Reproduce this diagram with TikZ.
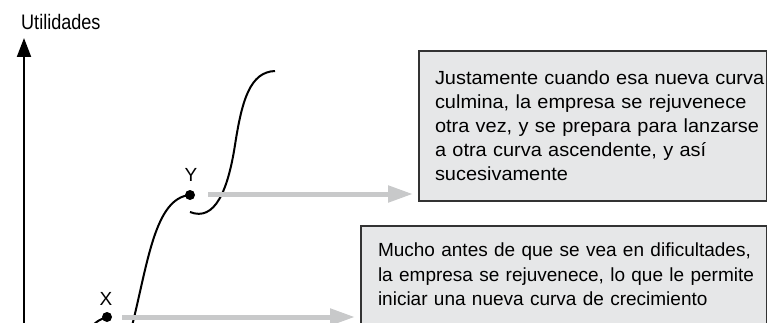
\documentclass[tikz,border=0pt]{standalone}
\usepackage{fontspec}
\setmainfont{Liberation Sans}
\usetikzlibrary{arrows.meta}
\definecolor{boxfill}{HTML}{E6E7E8}
\definecolor{boxline}{HTML}{333333}
\definecolor{arrowgray}{HTML}{C8C9CA}
\newcommand{\boxfont}{\fontsize{19}{24.5}\selectfont}
\newcommand{\wideboxfont}{\fontsize{19}{24}\selectfont\addfontfeature{FakeStretch=1.05}}
\newcommand{\titlefont}{\fontsize{21}{24}\selectfont\addfontfeature{FakeStretch=0.86}}
\tikzset{
  curve/.style={line width=2pt, black},
  dotnode/.style={circle, fill=black, inner sep=0pt, minimum size=10pt},
  lbl/.style={inner sep=0pt, font=\boxfont},
  greyarrow/.style={line width=5pt, arrowgray, -{Triangle[length=25pt,width=16pt]}, shorten >=5pt},
  infobox/.style={draw=boxline, line width=2pt, fill=boxfill, anchor=north west, align=left,
    font=\boxfont},
}
\begin{document}
\begin{tikzpicture}[x=1pt,y=-1pt]
\useasboundingbox (0,0) rectangle (767,323);
% axis
\coordinate (axb) at (24,330);
\coordinate (axt) at (24,38);
\draw[line width=2pt, -{Triangle[length=19pt,width=14pt]}] (axb) -- (axt);
\node[inner sep=0pt, anchor=base west, font=\titlefont] (ut) at (21,30) {Utilidades};
% boxes
\node[infobox, font=\wideboxfont, text width=315.5pt, inner xsep=16pt, inner ysep=20pt] (b1) at (418,50)
 {\mbox{\wideboxfont Justamente cuando esa nueva curva}\\ \mbox{\wideboxfont culmina, la empresa se rejuvenece}\\ \mbox{\wideboxfont otra vez, y se prepara para lanzarse}\\ \mbox{\wideboxfont a otra curva ascendente, y así}\\ \mbox{\wideboxfont sucesivamente}};
\node[infobox, text width=371.5pt, inner xsep=17pt, inner ysep=17pt] (b2) at (360,225)
 {\mbox{\boxfont Mucho antes de que se vea en dificultades,}\\ \mbox{\boxfont la empresa se rejuvenece, lo que le permite}\\ \mbox{\boxfont iniciar una nueva curva de crecimiento\rule[-40pt]{0pt}{1pt}}};
% dots and labels
\node[dotnode] (X) at (107,317) {};
\node[dotnode] (Y) at (190,195) {};
\node[lbl, anchor=base] (xl) at (106,305) {X};
\node[lbl, anchor=base] (yl) at (191,181) {Y};
% curves
\coordinate (c1s) at (93,325);
\coordinate (c2s) at (132,326);
\coordinate (c3s) at (190,212);
\coordinate (c3e) at (275,71);
\draw[curve] (c1s) .. controls (99,320) .. (X.center);
\draw[curve] (c2s) .. controls (148,262) and (155,198) .. (Y.center);
\draw[curve] (c3s) .. controls (215,222) and (228,190) .. (235,145) .. controls (242,100) and (250,72) .. (c3e);
% grey arrows
\coordinate (a1s) at (208,194);
\coordinate (a2s) at (122,317);
\draw[greyarrow] (a1s) -- (a1s -| b1.west);
\draw[greyarrow] (a2s) -- (a2s -| b2.west);
\end{tikzpicture}
\end{document}
